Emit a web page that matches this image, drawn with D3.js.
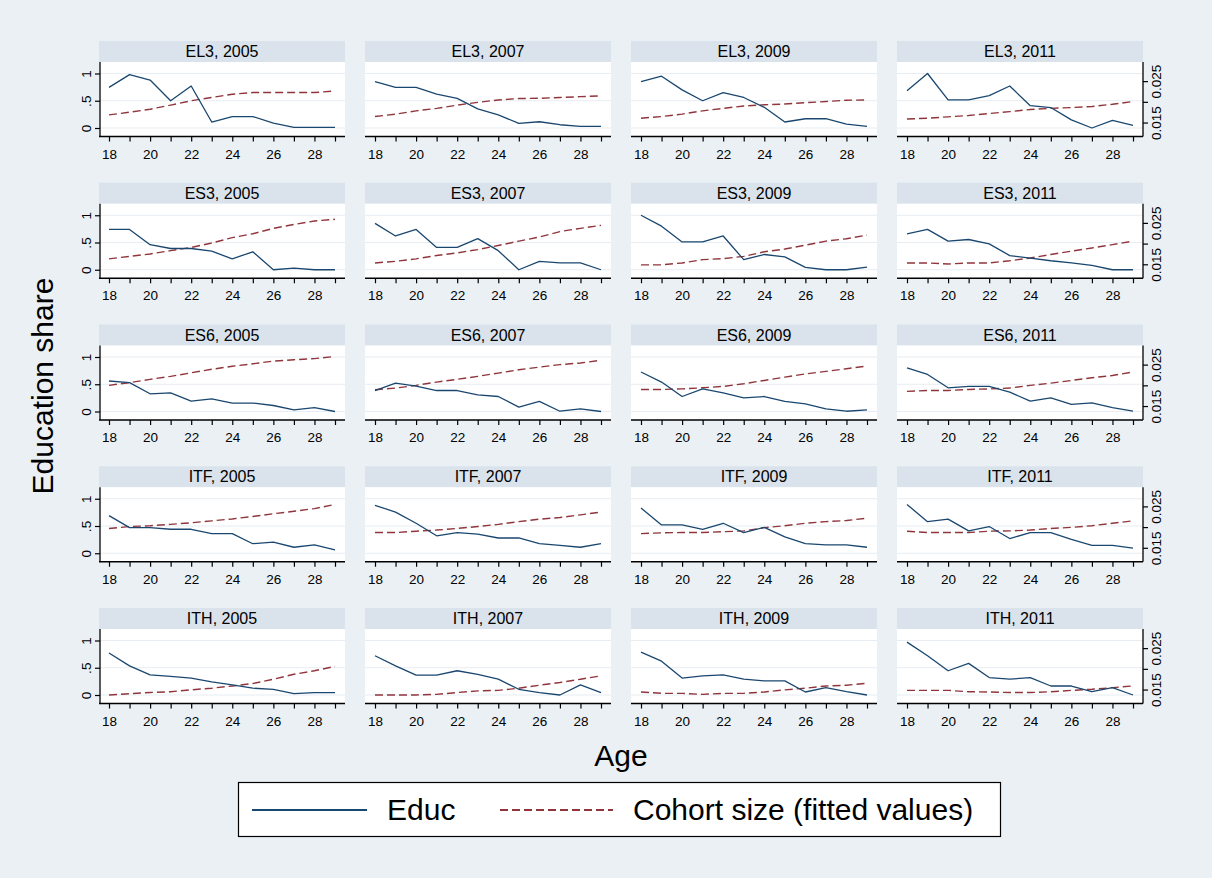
<!DOCTYPE html>
<html>
<head>
<meta charset="utf-8">
<script src="https://cdn.jsdelivr.net/npm/d3@7/dist/d3.min.js"></script>
<style>
  body { margin: 0; background: #eaf0f4; }
  svg { display: block; }
  text { font-family: "Liberation Sans", Arial, sans-serif; fill: #000; }
</style>
</head>
<body>
<svg id="chart" width="1212" height="878"></svg>
<script>
// ---- data -------------------------------------------------------------
const ages = [18, 19, 20, 21, 22, 23, 24, 25, 26, 27, 28, 29];
const xTickLabels = [18, 20, 22, 24, 26, 28];
const regions = ["EL3", "ES3", "ES6", "ITF", "ITH"];
const years = [2005, 2007, 2009, 2011];
const educTicks = [0, 0.5, 1];
const educTickLabels = ["0", ".5", "1"];
const cohortTicks = [0.015, 0.02, 0.025];
const cohortTickLabels = ["0.015", "", "0.025"];

// Education share by age, one row per year (2005, 2007, 2009, 2011)
const educEL3 = [
  [0.745, 0.98, 0.88, 0.50, 0.77, 0.11, 0.21, 0.21, 0.09, 0.01, 0.01, 0.01],
  [0.85, 0.745, 0.745, 0.62, 0.545, 0.35, 0.24, 0.085, 0.115, 0.06, 0.03, 0.03],
  [0.85, 0.95, 0.70, 0.50, 0.65, 0.56, 0.38, 0.11, 0.17, 0.17, 0.07, 0.03],
  [0.685, 1.00, 0.515, 0.515, 0.595, 0.77, 0.41, 0.375, 0.15, 0.0, 0.14, 0.05]
];
const educES3 = [
  [0.74, 0.74, 0.46, 0.39, 0.39, 0.34, 0.20, 0.33, 0.0, 0.03, 0.0, 0.0],
  [0.85, 0.62, 0.74, 0.41, 0.41, 0.57, 0.35, 0.0, 0.155, 0.125, 0.125, 0.0],
  [1.00, 0.80, 0.51, 0.51, 0.62, 0.185, 0.28, 0.235, 0.045, 0.0, 0.0, 0.05],
  [0.66, 0.74, 0.525, 0.555, 0.475, 0.26, 0.215, 0.165, 0.125, 0.08, 0.0, 0.0]
];
const educES6 = [
  [0.56, 0.53, 0.325, 0.34, 0.19, 0.23, 0.155, 0.155, 0.11, 0.03, 0.07, 0.0],
  [0.385, 0.52, 0.465, 0.385, 0.385, 0.305, 0.275, 0.08, 0.185, 0.005, 0.05, 0.0],
  [0.725, 0.54, 0.275, 0.415, 0.34, 0.25, 0.275, 0.185, 0.14, 0.05, 0.005, 0.03],
  [0.80, 0.68, 0.435, 0.46, 0.46, 0.355, 0.19, 0.25, 0.13, 0.16, 0.07, 0.005]
];
const educITF = [
  [0.69, 0.47, 0.47, 0.44, 0.44, 0.36, 0.36, 0.175, 0.205, 0.11, 0.155, 0.06],
  [0.88, 0.755, 0.55, 0.32, 0.38, 0.35, 0.28, 0.28, 0.175, 0.145, 0.11, 0.175],
  [0.83, 0.52, 0.52, 0.44, 0.55, 0.38, 0.475, 0.30, 0.175, 0.155, 0.155, 0.11],
  [0.895, 0.58, 0.625, 0.41, 0.49, 0.27, 0.38, 0.38, 0.255, 0.145, 0.145, 0.095]
];
const educITH = [
  [0.77, 0.535, 0.37, 0.34, 0.31, 0.24, 0.185, 0.125, 0.105, 0.025, 0.045, 0.045],
  [0.72, 0.535, 0.365, 0.365, 0.445, 0.38, 0.29, 0.105, 0.045, 0.0, 0.185, 0.045],
  [0.785, 0.62, 0.31, 0.35, 0.37, 0.29, 0.26, 0.26, 0.055, 0.135, 0.06, 0.0],
  [0.97, 0.72, 0.445, 0.58, 0.32, 0.29, 0.32, 0.165, 0.165, 0.06, 0.135, 0.0]
];

// Cohort size (fitted values) by age, one row per year
const cohortEL3 = [
  [0.01684, 0.01750, 0.01822, 0.01921, 0.02026, 0.02105, 0.02184, 0.02224, 0.02224, 0.02224, 0.02224, 0.02263],
  [0.01645, 0.01704, 0.01783, 0.01842, 0.01921, 0.01987, 0.02046, 0.02079, 0.02086, 0.02105, 0.02125, 0.02145],
  [0.01605, 0.01645, 0.01704, 0.01783, 0.01842, 0.01901, 0.01928, 0.01947, 0.01980, 0.02007, 0.02039, 0.02046],
  [0.01586, 0.01605, 0.01638, 0.01671, 0.01717, 0.01763, 0.01816, 0.01842, 0.01862, 0.01888, 0.01941, 0.02007]
];
const cohortES3 = [
  [0.01632, 0.01691, 0.01750, 0.01829, 0.01908, 0.02013, 0.02145, 0.02237, 0.02368, 0.02461, 0.02546, 0.02586],
  [0.01533, 0.01572, 0.01632, 0.01711, 0.01776, 0.01855, 0.01954, 0.02059, 0.02158, 0.02290, 0.02368, 0.02441],
  [0.01487, 0.01487, 0.01533, 0.01612, 0.01638, 0.01691, 0.01803, 0.01868, 0.01961, 0.02059, 0.02118, 0.02204],
  [0.01533, 0.01533, 0.01507, 0.01533, 0.01533, 0.01586, 0.01651, 0.01737, 0.01816, 0.01895, 0.01974, 0.02059]
];
const cohortES6 = [
  [0.02000, 0.02066, 0.02145, 0.02217, 0.02303, 0.02388, 0.02461, 0.02520, 0.02586, 0.02618, 0.02645, 0.02697],
  [0.01895, 0.01934, 0.02000, 0.02079, 0.02145, 0.02217, 0.02296, 0.02375, 0.02441, 0.02500, 0.02540, 0.02605],
  [0.01901, 0.01901, 0.01914, 0.01941, 0.01974, 0.02039, 0.02118, 0.02197, 0.02276, 0.02336, 0.02401, 0.02467],
  [0.01855, 0.01875, 0.01875, 0.01901, 0.01914, 0.01934, 0.02000, 0.02053, 0.02118, 0.02184, 0.02237, 0.02322]
];
const cohortITF = [
  [0.01967, 0.02013, 0.02033, 0.02066, 0.02105, 0.02151, 0.02197, 0.02257, 0.02322, 0.02382, 0.02447, 0.02546],
  [0.01868, 0.01868, 0.01901, 0.01928, 0.01967, 0.02013, 0.02066, 0.02132, 0.02191, 0.02230, 0.02296, 0.02362],
  [0.01842, 0.01862, 0.01868, 0.01868, 0.01888, 0.01908, 0.01987, 0.02033, 0.02092, 0.02132, 0.02158, 0.02217],
  [0.01901, 0.01868, 0.01868, 0.01868, 0.01901, 0.01908, 0.01928, 0.01967, 0.01993, 0.02033, 0.02092, 0.02151]
];
const cohortITH = [
  [0.01368, 0.01401, 0.01428, 0.01447, 0.01493, 0.01533, 0.01586, 0.01645, 0.01750, 0.01868, 0.01954, 0.02059],
  [0.01368, 0.01368, 0.01368, 0.01384, 0.01428, 0.01467, 0.01480, 0.01533, 0.01605, 0.01671, 0.01750, 0.01829],
  [0.01441, 0.01408, 0.01408, 0.01384, 0.01408, 0.01408, 0.01441, 0.01493, 0.01533, 0.01586, 0.01605, 0.01651],
  [0.01480, 0.01480, 0.01480, 0.01447, 0.01441, 0.01428, 0.01428, 0.01447, 0.01480, 0.01507, 0.01546, 0.01586]
];

const educByRegion = { EL3: educEL3, ES3: educES3, ES6: educES6, ITF: educITF, ITH: educITH };
const cohortByRegion = { EL3: cohortEL3, ES3: cohortES3, ES6: cohortES6, ITF: cohortITF, ITH: cohortITH };

// ---- styling / layout --------------------------------------------------
const W = 1212, H = 878;
const BG = "#eaf0f4", STRIP = "#dae3eb", GRID = "#e7edf2";
const NAVY = "#1a476f", MAROON = "#90353b";
const DASH = "8,4";
const colStep = 266, rowStep = 141.75;
const panelLeft = 99, panelWidth = 246;
const xPad = 10;              // gap between plot edge and age 18 / 29
const zeroY = 128;            // y of educ = 0 in the first row
const unitH = 54.5;           // pixels per educ unit
const stripH = 21;

const svg = d3.select("#chart");
svg.append("rect").attr("width", W).attr("height", H).attr("fill", BG);

regions.forEach((reg, r) => {
  const y0 = zeroY + rowStep * r;
  const y = d3.scaleLinear().domain([0, 1]).range([y0, y0 - unitH]);
  // secondary axis for cohort size, sharing the panel height
  const yC = d3.scaleLinear().domain([0.015, 0.025]).range([y(0.10), y(0.86)]);
  const plotTop = y0 - 66, plotBot = y0 + 8.5;

  years.forEach((yr, c) => {
    const left = panelLeft + colStep * c, right = left + panelWidth;
    const x = d3.scaleLinear().domain([18, 29]).range([left + xPad, right - xPad]);
    const g = svg.append("g").attr("class", `panel ${reg}-${yr}`);

    // title strip
    g.append("rect").attr("x", left).attr("y", plotTop - stripH)
      .attr("width", panelWidth).attr("height", stripH).attr("fill", STRIP);
    g.append("text").attr("x", (left + right) / 2).attr("y", plotTop - 5)
      .attr("text-anchor", "middle").attr("font-size", 16)
      .text(`${reg}, ${yr}`);

    // plot region
    g.append("rect").attr("x", left).attr("y", plotTop)
      .attr("width", panelWidth).attr("height", plotBot - plotTop).attr("fill", "#fff");

    g.selectAll("line.grid").data(educTicks).join("line")
      .attr("class", "grid")
      .attr("x1", left).attr("x2", right)
      .attr("y1", d => y(d)).attr("y2", d => y(d))
      .attr("stroke", GRID).attr("stroke-width", 1.2);

    // x axis
    g.append("line").attr("x1", left).attr("x2", right)
      .attr("y1", plotBot).attr("y2", plotBot)
      .attr("stroke", "#000").attr("stroke-width", 1.3);
    const ax = g.append("g").attr("transform", `translate(0,${plotBot})`)
      .call(d3.axisBottom(x).tickValues(ages).tickSize(5).tickSizeOuter(0)
        .tickFormat(d => xTickLabels.includes(d) ? d : ""));
    ax.select(".domain").remove();
    ax.selectAll(".tick line").attr("stroke", "#000").attr("stroke-width", 1.2);
    ax.selectAll(".tick text").attr("font-size", 13.5).attr("dy", 0).attr("y", 22)
      .style("font-family", '"Liberation Sans", Arial, sans-serif');

    // left axis (first column)
    if (c === 0) {
      g.append("line").attr("x1", left + 1).attr("x2", left + 1)
        .attr("y1", plotTop).attr("y2", plotBot)
        .attr("stroke", "#000").attr("stroke-width", 1.3);
      const ay = g.append("g").attr("transform", `translate(${left + 1},0)`)
        .call(d3.axisLeft(y).tickValues(educTicks).tickSize(5).tickSizeOuter(0)
          .tickFormat((d, i) => educTickLabels[i]));
      ay.select(".domain").remove();
      ay.selectAll(".tick line").attr("stroke", "#000").attr("stroke-width", 1.2);
      ay.selectAll(".tick text").attr("font-size", 13.5)
        .attr("transform", "rotate(-90)").attr("text-anchor", "middle")
        .attr("x", 0).attr("y", -9).attr("dy", 0)
        .style("font-family", '"Liberation Sans", Arial, sans-serif');
    }

    // right axis (last column)
    if (c === years.length - 1) {
      g.append("line").attr("x1", right).attr("x2", right)
        .attr("y1", plotTop).attr("y2", plotBot)
        .attr("stroke", "#000").attr("stroke-width", 1.3);
      const ar = g.append("g").attr("transform", `translate(${right},0)`)
        .call(d3.axisRight(yC).tickValues(cohortTicks).tickSize(5).tickSizeOuter(0)
          .tickFormat((d, i) => cohortTickLabels[i]));
      ar.select(".domain").remove();
      ar.selectAll(".tick line").attr("stroke", "#000").attr("stroke-width", 1.2);
      ar.selectAll(".tick text").attr("font-size", 13.5)
        .attr("transform", "rotate(-90)").attr("text-anchor", "middle")
        .attr("x", 0).attr("y", 18).attr("dy", 0)
        .style("font-family", '"Liberation Sans", Arial, sans-serif');
    }

    // series
    const educ = educByRegion[reg][c];
    const cohort = cohortByRegion[reg][c];
    g.append("path").datum(ages)
      .attr("fill", "none").attr("stroke", MAROON).attr("stroke-width", 1.4)
      .attr("stroke-dasharray", DASH)
      .attr("d", d3.line().x(a => x(a)).y((a, i) => yC(cohort[i])));
    g.append("path").datum(ages)
      .attr("fill", "none").attr("stroke", NAVY).attr("stroke-width", 1.3)
      .attr("stroke-linejoin", "round")
      .attr("d", d3.line().x(a => x(a)).y((a, i) => y(educ[i])));
  });
});

// axis titles
svg.append("text").attr("transform", "translate(53,386) rotate(-90)")
  .attr("text-anchor", "middle").attr("font-size", 30).text("Education share");
svg.append("text").attr("x", 621).attr("y", 766)
  .attr("text-anchor", "middle").attr("font-size", 30).text("Age");

// legend
const leg = svg.append("g");
leg.append("rect").attr("x", 238.5).attr("y", 782.5).attr("width", 762).attr("height", 54)
  .attr("fill", "#fff").attr("stroke", "#000").attr("stroke-width", 1.2);
leg.append("line").attr("x1", 252).attr("x2", 367).attr("y1", 810).attr("y2", 810)
  .attr("stroke", NAVY).attr("stroke-width", 2.2);
leg.append("text").attr("x", 387).attr("y", 820).attr("font-size", 30).text("Educ");
leg.append("line").attr("x1", 500).attr("x2", 613).attr("y1", 810).attr("y2", 810)
  .attr("stroke", MAROON).attr("stroke-width", 2).attr("stroke-dasharray", DASH);
leg.append("text").attr("x", 633).attr("y", 820).attr("font-size", 30).text("Cohort size (fitted values)");
</script>
</body>
</html>
